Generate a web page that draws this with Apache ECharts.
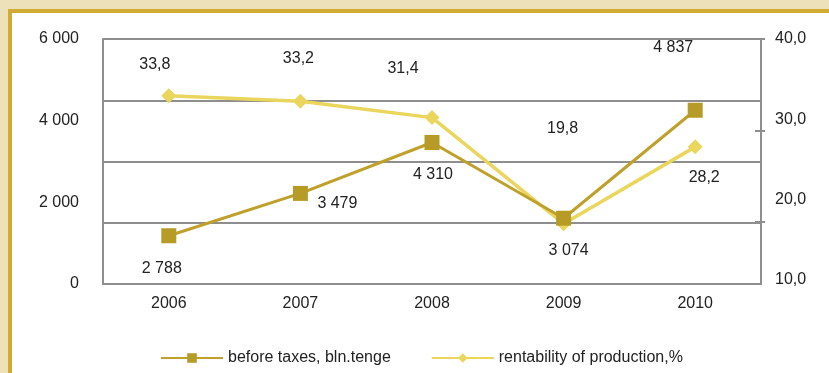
<!DOCTYPE html>
<html>
<head>
<meta charset="utf-8">
<script src="https://cdn.jsdelivr.net/npm/echarts@6/dist/echarts.min.js"></script>
<style>
html,body{margin:0;padding:0;width:829px;height:373px;overflow:hidden;background:#EDE1BA;}
#frame{position:absolute;left:8px;top:9px;width:830px;height:380px;background:#fff;border-left:4px solid #D1AB34;border-top:4px solid #D1AB34;}
#chart{position:absolute;left:0;top:0;width:829px;height:373px;}
</style>
</head>
<body>
<div id="frame"></div>
<div id="chart"></div>
<script>
// Data
const years = ['2006', '2007', '2008', '2009', '2010'];
const beforeTaxes = [2788, 3479, 4310, 3074, 4837];         // bln. tenge
const rentability = [33.8, 33.2, 31.4, 19.8, 28.2];         // %
const leftTickLabels = [0, 2000, 4000, 6000];
const rightTickLabels = [10, 20, 30, 40];
const seriesNames = ['before taxes, bln.tenge', 'rentability of production,%'];

const FONT = 'Liberation Sans, Arial, sans-serif';
const GRAY = '#8E8E8E';
const GOLD = '#BFA02A';
const GOLD_MARK = '#B69C27';
const YEL = '#EAD65C';

function fmtThousands(v){ return String(Math.round(v)).replace(/\B(?=(\d{3})+(?!\d))/g, ' '); }
function fmtComma(v){ return v.toFixed(1).replace('.', ','); }

// label offsets (px) relative to each point, styling only
const btOffsets = [[-7, 33], [37, 10], [1, 32], [5, 32], [-22, -63]];
const rtOffsets = [[-14, -31], [-2, -43], [-29, -49], [-1, -95], [9, 31]];

const chart = echarts.init(document.getElementById('chart'), null, {renderer: 'canvas'});
const labelStyle = {color: '#222', fontSize: 16, fontFamily: FONT};

chart.setOption({
  backgroundColor: 'transparent',
  animation: false,
  grid: {left: 103, right: 68, top: 39, bottom: 89, containLabel: false},
  legend: {
    bottom: 2, left: 155,
    itemWidth: 62, itemHeight: 12, itemGap: 40,
    textStyle: {fontSize: 16, fontFamily: FONT, color: '#222'},
    data: seriesNames
  },
  xAxis: {
    type: 'category', data: years, boundaryGap: true,
    axisLine: {lineStyle: {color: GRAY, width: 2}},
    axisTick: {show: false},
    axisLabel: {color: '#222', fontSize: 16, fontFamily: FONT, margin: 12}
  },
  yAxis: [
    { // plotting axis for before taxes (gridlines)
      type: 'value', position: 'left', min: 2000, max: 6000, interval: 1000,
      axisLine: {show: false}, axisTick: {show: false}, axisLabel: {show: false},
      splitLine: {show: true, lineStyle: {color: GRAY, width: 2}}
    },
    { // visible left labels
      type: 'value', position: 'left', min: 0, max: 6000, interval: 2000,
      axisLine: {show: true, lineStyle: {color: GRAY, width: 2}},
      axisTick: {show: false}, splitLine: {show: false},
      axisLabel: {color: '#222', fontSize: 16, fontFamily: FONT, margin: 24,
        customValues: leftTickLabels, formatter: v => fmtThousands(v)}
    },
    { // plotting axis for rentability
      type: 'value', position: 'right', min: 13.2, max: 40,
      axisLine: {show: true, lineStyle: {color: GRAY, width: 2}},
      axisTick: {show: true, inside: false, length: 4, lineStyle: {color: GRAY, width: 2}, customValues: [20, 30, 40]},
      axisLabel: {show: false}, splitLine: {show: false}
    },
    { // inner half of right ticks
      type: 'value', position: 'right', min: 13.2, max: 40,
      axisLine: {show: false},
      axisTick: {show: true, inside: true, length: 6, lineStyle: {color: GRAY, width: 2}, customValues: [20, 30, 40]},
      axisLabel: {show: false}, splitLine: {show: false}
    },
    { // visible right labels
      type: 'value', position: 'right', min: 9.5, max: 40,
      axisLine: {show: false}, axisTick: {show: false}, splitLine: {show: false},
      axisLabel: {color: '#222', fontSize: 16, fontFamily: FONT, margin: 14,
        customValues: rightTickLabels, formatter: v => fmtComma(v)}
    }
  ],
  series: [
    {
      name: seriesNames[1], type: 'line', yAxisIndex: 2, z: 3,
      data: rentability.map((v, i) => ({value: v, label: {offset: rtOffsets[i]}})),
      symbol: 'diamond', symbolSize: 15,
      lineStyle: {color: YEL, width: 3.5},
      itemStyle: {color: YEL},
      label: Object.assign({show: true, position: 'inside', formatter: p => fmtComma(p.value)}, labelStyle)
    },
    {
      name: seriesNames[0], type: 'line', yAxisIndex: 0, z: 4,
      data: beforeTaxes.map((v, i) => ({value: v, label: {offset: btOffsets[i]}})),
      symbol: 'rect', symbolSize: 15,
      lineStyle: {color: GOLD, width: 3},
      itemStyle: {color: GOLD_MARK},
      label: Object.assign({show: true, position: 'inside', formatter: p => fmtThousands(p.value)}, labelStyle)
    }
  ]
});
</script>
</body>
</html>
